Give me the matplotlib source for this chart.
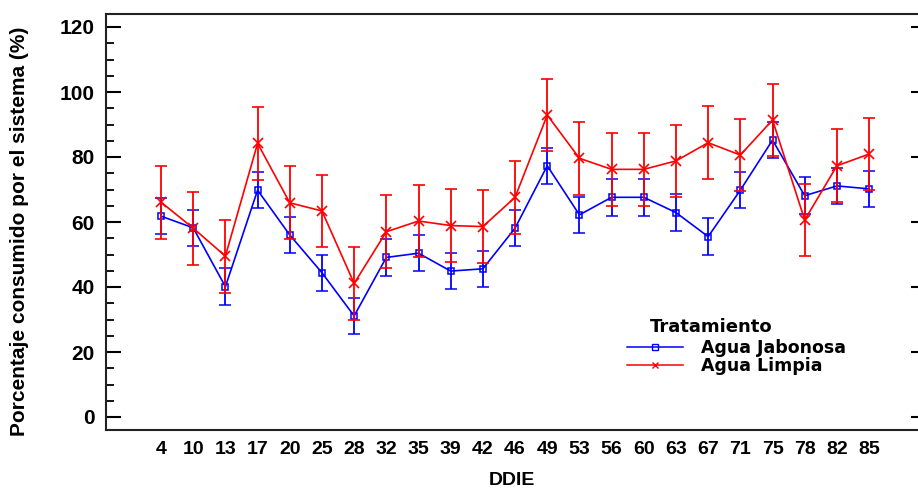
import matplotlib
matplotlib.use("Agg")
import matplotlib.pyplot as plt
from matplotlib.lines import Line2D
from matplotlib.ticker import MultipleLocator

# DDIE sampling days (categorical axis)
ddie = ["4", "10", "13", "17", "20", "25", "28", "32", "35", "39", "42", "46",
        "49", "53", "56", "60", "63", "67", "71", "75", "78", "82", "85"]

# Agua Jabonosa (blue, squares)
jabonosa = [61.8, 58.2, 40.1, 69.8, 56.0, 44.4, 31.1, 49.1, 50.4, 44.9, 45.6, 58.1,
            77.3, 62.2, 67.6, 67.6, 62.9, 55.5, 69.8, 85.2, 68.1, 71.1, 70.2]
jabonosa_err = 5.6

# Agua Limpia (red, crosses)
limpia = [66.1, 58.1, 49.5, 84.2, 65.9, 63.4, 41.1, 57.0, 60.3, 58.9, 58.6, 67.6,
          92.9, 79.6, 76.2, 76.2, 78.8, 84.4, 80.6, 91.4, 60.6, 77.3, 80.9]
limpia_err = 11.2

narrow = ["Liberation Sans Narrow", "Liberation Sans", "DejaVu Sans"]
wide = ["Liberation Sans", "DejaVu Sans"]

fig = plt.figure(figsize=(9.18, 4.91), dpi=100)
ax = fig.add_axes([106 / 918, 61 / 491, 812 / 918, 416 / 491])

x = list(range(len(ddie)))

ax.errorbar(x, jabonosa, yerr=jabonosa_err, color="#0000ff", marker="s",
            markersize=5, markerfacecolor="none", markeredgewidth=1.1,
            linewidth=1.2, elinewidth=1.3, capsize=4, capthick=1.3, zorder=3)
ax.errorbar(x, limpia, yerr=limpia_err, color="#ff0000", marker="x",
            markersize=7, markeredgewidth=1.2,
            linewidth=1.2, elinewidth=1.3, capsize=4, capthick=1.3, zorder=4)

ax.set_xlim(-1.71, 23.52)
ax.set_ylim(-4, 124)
ax.set_xticks(x)
ax.set_xticklabels(ddie, family=narrow, fontweight="bold", fontsize=14)
ax.tick_params(axis="x", length=0, pad=8)

ax.yaxis.set_major_locator(MultipleLocator(20))
ax.yaxis.set_minor_locator(MultipleLocator(5))
ax.tick_params(axis="y", which="major", direction="in", length=11, width=1.5,
               right=True, pad=8)
ax.tick_params(axis="y", which="minor", direction="in", length=6, width=1.3)
for lbl in ax.get_yticklabels():
    lbl.set_family(narrow)
    lbl.set_fontweight("bold")
    lbl.set_fontsize(15)
for t in ax.yaxis.get_major_ticks():
    t.tick2line.set_markersize(5)

for side in ["top", "bottom", "left"]:
    ax.spines[side].set_linewidth(1.5)
    ax.spines[side].set_color("#222222")
ax.spines["right"].set_visible(False)

ax.set_xlabel("DDIE", family=narrow, fontweight="bold", fontsize=14, labelpad=10)
fig.text(20 / 918, 1 - 231 / 491, "Porcentaje consumido por el sistema (%)",
         family=wide, fontweight="bold", fontsize=15, rotation=90,
         ha="center", va="center")

# legend
handles = [
    Line2D([], [], color="#0000ff", marker="s", markersize=4,
           markerfacecolor="none", linewidth=1.1),
    Line2D([], [], color="#ff0000", marker="x", markersize=5, linewidth=1.1),
]
ax.legend(handles, ["Agua Jabonosa", "Agua Limpia"], loc="upper left",
          bbox_to_anchor=(615 / 918, 1 - 327 / 491), bbox_transform=fig.transFigure,
          frameon=False, handlelength=3.2, handletextpad=1.05, labelspacing=0.0,
          borderpad=0.2,
          prop={"family": "DejaVu Sans", "weight": "bold", "size": 12.5})
fig.text(650 / 918, 1 - 327 / 491, "Tratamiento", family="DejaVu Sans",
         fontweight="bold", fontsize=13, va="center", ha="left")

fig.savefig("out.png", dpi=100)
